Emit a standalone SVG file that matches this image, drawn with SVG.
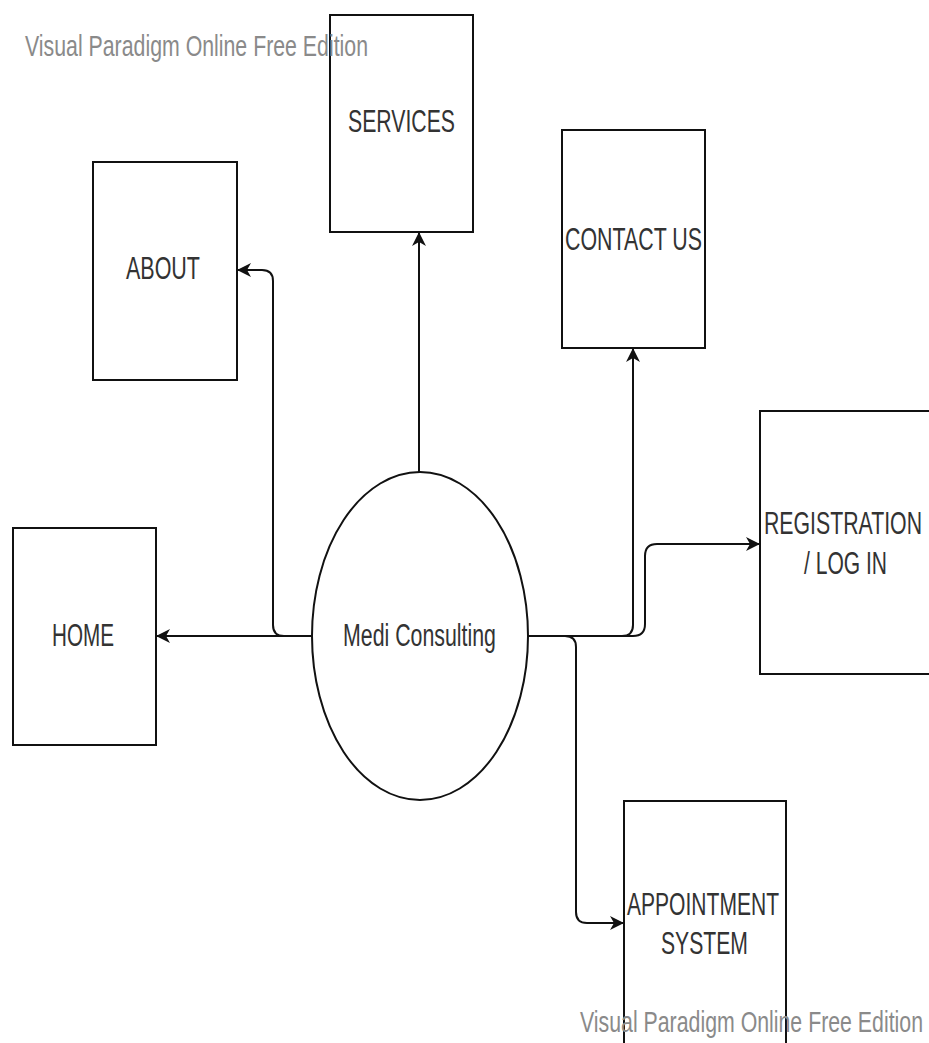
<svg xmlns="http://www.w3.org/2000/svg" width="929" height="1043" viewBox="0 0 929 1043">
<style>
.box{fill:#fff;stroke:#111;stroke-width:2}
.lbl{font-family:"Liberation Sans",Arial,sans-serif;font-size:31px;fill:#333}
.wm{font-family:"Liberation Sans",Arial,sans-serif;font-size:30px;fill:#8a8a8a}
.con{fill:none;stroke:#111;stroke-width:2}
</style>
<defs>
<marker id="arr" viewBox="0 0 14 14" refX="13" refY="7" markerWidth="14" markerHeight="14" markerUnits="userSpaceOnUse" orient="auto">
<path d="M0,0 L14,7 L0,14 L4,7 Z" fill="#111"/>
</marker>
</defs>
<rect width="929" height="1043" fill="#fff"/>
<g id="connectors">
<path class="con" d="M312,636 L157,636" marker-end="url(#arr)"/>
<path class="con" d="M312,636 L284,636 Q273,636 273,625 L273,281 Q273,270 262,270 L238,270" marker-end="url(#arr)"/>
<path class="con" d="M419,472 L419,233" marker-end="url(#arr)"/>
<path class="con" d="M528,636 L622,636 Q633,636 633,625 L633,349" marker-end="url(#arr)"/>
<path class="con" d="M528,636 L633,636 Q645,636 645,624 L645,556 Q645,544 657,544 L759,544" marker-end="url(#arr)"/>
<path class="con" d="M528,636 L565,636 Q576,636 576,647 L576,912 Q576,923 587,923 L623,923" marker-end="url(#arr)"/>
</g>
<g id="services">
<rect class="box" x="330" y="15" width="143" height="217"/>
<text class="lbl" x="348" y="132" textLength="107" lengthAdjust="spacingAndGlyphs">SERVICES</text>
</g>
<g id="about">
<rect class="box" x="93" y="162" width="144" height="218"/>
<text class="lbl" x="126" y="279" textLength="74" lengthAdjust="spacingAndGlyphs">ABOUT</text>
</g>
<g id="contact">
<rect class="box" x="562" y="130" width="143" height="218"/>
<text class="lbl" x="565" y="250" textLength="137" lengthAdjust="spacingAndGlyphs">CONTACT US</text>
</g>
<g id="home">
<rect class="box" x="13" y="528" width="143" height="217"/>
<text class="lbl" x="52" y="646" textLength="62" lengthAdjust="spacingAndGlyphs">HOME</text>
</g>
<g id="medi">
<ellipse cx="420" cy="636" rx="108" ry="164" fill="#fff" stroke="#111" stroke-width="2"/>
<text class="lbl" x="343" y="646" textLength="153" lengthAdjust="spacingAndGlyphs">Medi Consulting</text>
</g>
<g id="registration">
<rect class="box" x="760" y="411" width="180" height="263"/>
<text class="lbl" x="764" y="534" textLength="158" lengthAdjust="spacingAndGlyphs">REGISTRATION</text>
<text class="lbl" x="804" y="574" textLength="83" lengthAdjust="spacingAndGlyphs">/ LOG IN</text>
</g>
<g id="appointment">
<rect class="box" x="624" y="801" width="162" height="260"/>
<text class="lbl" x="627" y="915" textLength="152" lengthAdjust="spacingAndGlyphs">APPOINTMENT</text>
<text class="lbl" x="661" y="954" textLength="87" lengthAdjust="spacingAndGlyphs">SYSTEM</text>
</g>
<text class="wm" x="25" y="56" textLength="343" lengthAdjust="spacingAndGlyphs">Visual Paradigm Online Free Edition</text>
<text class="wm" x="580" y="1032" textLength="343" lengthAdjust="spacingAndGlyphs">Visual Paradigm Online Free Edition</text>
</svg>
